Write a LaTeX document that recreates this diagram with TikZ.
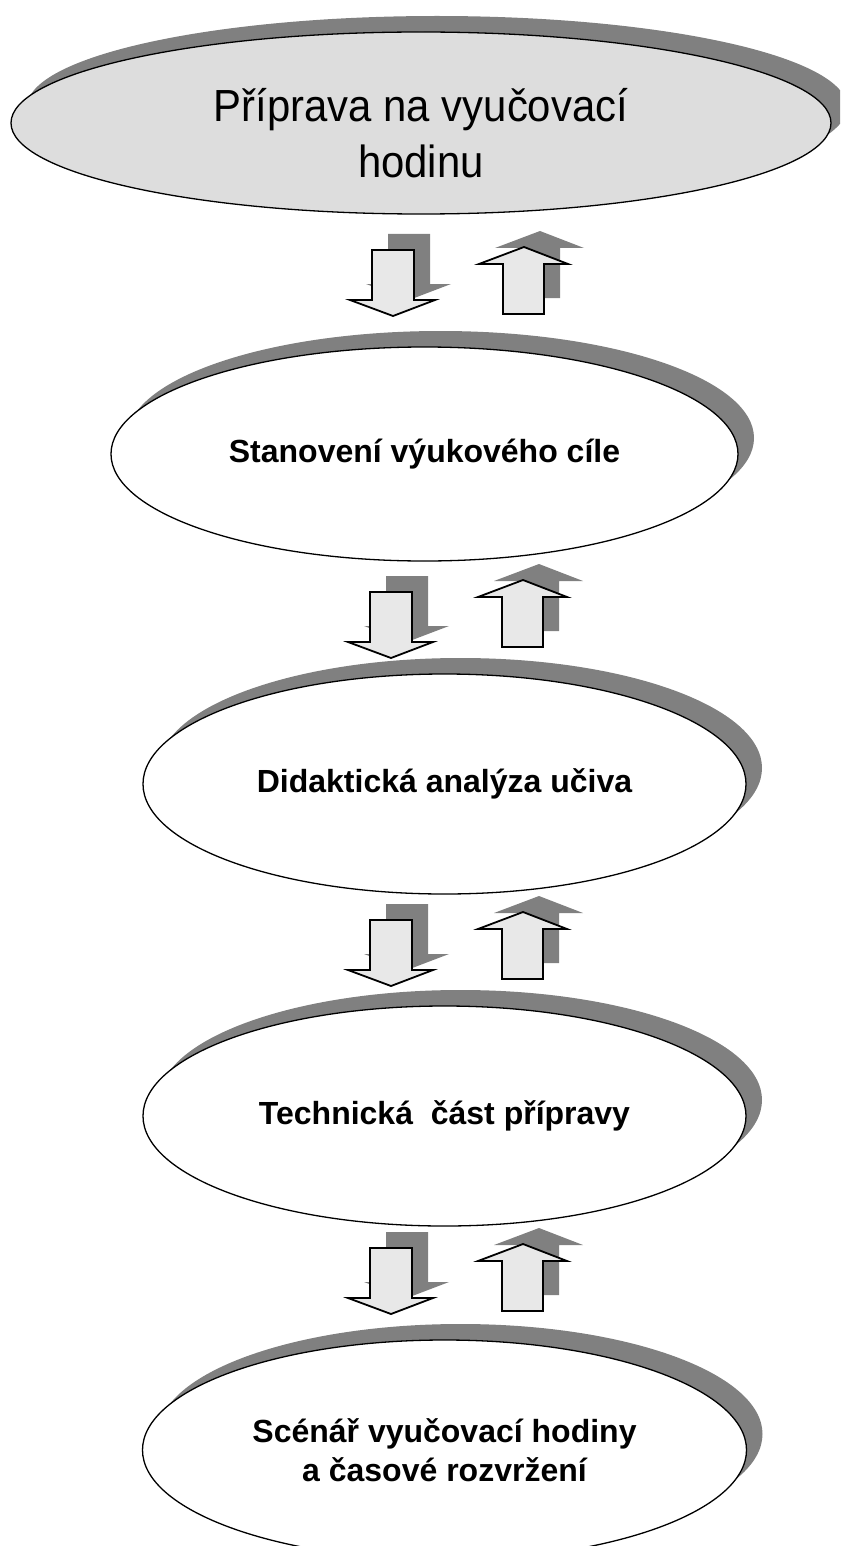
\documentclass[tikz,border=0pt]{standalone}
\usepackage{fontspec}
\setmainfont{Liberation Sans}
\newfontfamily\topfont[FakeStretch=0.93]{Liberation Sans}
\usetikzlibrary{shapes.geometric,shadows}
\definecolor{shgray}{HTML}{808080}
\definecolor{topfill}{HTML}{DDDDDD}
\definecolor{arrfill}{HTML}{E8E8E8}
\tikzset{
  stage/.style={ellipse, draw=black, line width=1.3pt, fill=white, inner sep=0pt,
    align=center, font=\fontsize{32}{39}\selectfont\bfseries,
    drop shadow={shadow xshift=16pt, shadow yshift=16pt, fill=shgray, opacity=1}},
  topstage/.style={stage, fill=topfill},
  toptext/.style={anchor=base, inner sep=0pt, font=\topfont\fontsize{45}{56}\selectfont},
  arrowbox/.style={draw=black, fill=arrfill, line width=1.8pt, line join=miter},
  arrowshadow/.style={fill=shgray, xshift=16pt, yshift=16pt},
  dnarrow/.pic={
    \fill[arrowshadow] (-21,-66) -- (21,-66) -- (21,-16) -- (42,-16) -- (0,0) -- (-43,-16) -- (-21,-16) -- cycle;
    \draw[arrowbox] (-21,-66) -- (21,-66) -- (21,-16) -- (42,-16) -- (0,0) -- (-43,-16) -- (-21,-16) -- cycle;
  },
  uparrow/.pic={
    \fill[arrowshadow] (-21,67) -- (20,67) -- (20,17) -- (44,17) -- (0,0) -- (-45,17) -- (-21,17) -- cycle;
    \draw[arrowbox] (-21,67) -- (20,67) -- (20,17) -- (44,17) -- (0,0) -- (-45,17) -- (-21,17) -- cycle;
  }
}
\begin{document}
\begin{tikzpicture}[x=1pt,y=-1pt]
\useasboundingbox (0,0) rectangle (840,1546);
\begin{scope}
\clip (0,0) rectangle (840,1546);
\node[topstage, minimum width=820pt, minimum height=182pt] (e1) at (421,123) {};
\node[toptext] (t1a) at (421,122) {Příprava na vyučovací};
\node[toptext] (t1b) at (421,178) {hodinu};
\node[stage, minimum width=627pt, minimum height=214pt] (e2) at (424.5,454) {Stanovení výukového cíle};
\node[stage, minimum width=603pt, minimum height=220pt] (e3) at (444.5,784) {Didaktická analýza učiva};
\node[stage, minimum width=603pt, minimum height=220pt] (e4) at (444.5,1116) {Technická\ \ část přípravy};
\node[stage, minimum width=604pt, minimum height=220pt] (e5) at (444.5,1450) {Scénář vyučovací hodiny\\a časové rozvržení};

\coordinate (d1) at (393,316);
\coordinate (u1) at (524,247);
\coordinate (d2) at (391,658);
\coordinate (u2) at (523,580);
\coordinate (d3) at (391,986);
\coordinate (u3) at (523,912);
\coordinate (d4) at (391,1314);
\coordinate (u4) at (523,1244);
\pic at (d1) {dnarrow};
\pic at (u1) {uparrow};
\pic at (d2) {dnarrow};
\pic at (u2) {uparrow};
\pic at (d3) {dnarrow};
\pic at (u3) {uparrow};
\pic at (d4) {dnarrow};
\pic at (u4) {uparrow};
\end{scope}
\end{tikzpicture}
\end{document}
